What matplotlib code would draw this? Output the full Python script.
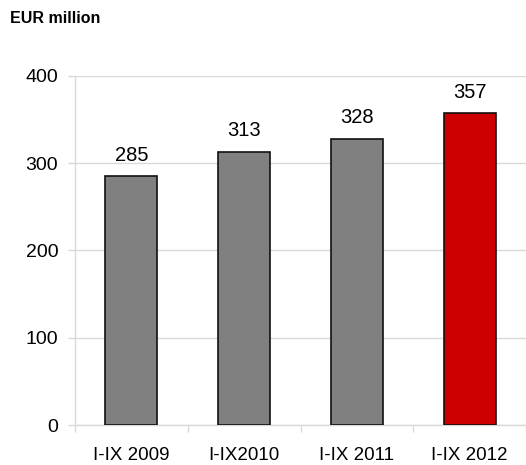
import matplotlib.pyplot as plt
import numpy as np

plt.rcParams['font.family'] = ['Liberation Sans', 'DejaVu Sans']

categories = ["I-IX 2009", "I-IX2010", "I-IX 2011", "I-IX 2012"]
values = [285, 313, 328, 357]
colors = ["#808080", "#808080", "#808080", "#cc0000"]

fig = plt.figure(figsize=(5.26, 4.65), dpi=100)
ax = fig.add_axes([0.1426, 0.086, 0.8574, 0.7508])

x = np.arange(len(categories))
ax.bar(x, values, width=0.46, color=colors, edgecolor="#111111", linewidth=1.2, zorder=3)
for xi, v in zip(x, values):
    ax.text(xi, v + 18, str(v), ha="center", va="baseline", fontsize=14.5, zorder=4)

ax.set_xlim(-0.5, 3.5)
ax.set_ylim(0, 400)
ax.set_yticks([0, 100, 200, 300, 400])
ax.yaxis.grid(True, color="#d9d9d9", linewidth=1.0, zorder=0)
ax.set_xticks(x)
ax.set_xticklabels(categories)
ax.set_xticks(np.arange(-0.5, 4.0, 1.0), minor=True)
ax.tick_params(axis="x", which="major", length=0, pad=15.5, labelsize=13.5)
ax.tick_params(axis="x", which="minor", length=5, color="#d9d9d9", width=1.0)
ax.tick_params(axis="y", length=5, color="#d9d9d9", width=1.0, labelsize=14, pad=7)

for side in ["top", "right"]:
    ax.spines[side].set_visible(False)
for side in ["left", "bottom"]:
    ax.spines[side].set_color("#d9d9d9")
    ax.spines[side].set_linewidth(1.0)

fig.text(0.019, 0.960, "EUR million", fontsize=11.5, fontweight="bold", ha="left", va="center")

fig.savefig("out.png", dpi=100)
